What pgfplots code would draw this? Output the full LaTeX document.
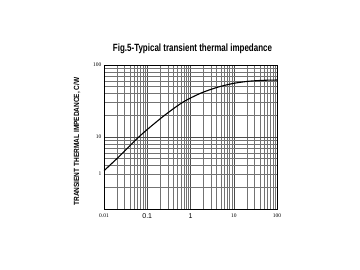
\documentclass[border=0pt]{standalone}
\usepackage{pgfplots}
\pgfplotsset{compat=1.18}
\usepackage{fontspec}
\setmainfont{Liberation Serif}
\newfontfamily\arialf{Liberation Sans}
\begin{document}
\begin{tikzpicture}[x=1pt,y=1pt]
\useasboundingbox (0,0) rectangle (360,270);
\fill[white] (0,0) rectangle (360,270);
\begin{axis}[at={(104pt,61pt)}, anchor=south west, scale only axis,
  width=173pt, height=144pt,
  xmode=log, ymode=log, xmin=0.01, xmax=100, ymin=1, ymax=100,
  xtick={0.01,0.1,1,10,100},
  xticklabels={{\fontsize{5.5}{6}\selectfont 0.01},{\arialf\fontsize{7}{8}\selectfont 0.1},{\arialf\fontsize{7}{8}\selectfont 1},{\fontsize{5.5}{6}\selectfont 10},{\fontsize{5.5}{6}\selectfont 100}},
  ytick={10,100}, yticklabels={10,100},
  extra y ticks={3.1}, extra y tick labels={1},
  extra y tick style={grid=none},
  minor xtick={0.02,0.03,0.04,0.05,0.06,0.07,0.08,0.09,0.2,0.3,0.4,0.5,0.6,0.7,0.8,0.9,2,3,4,5,6,7,8,9,20,30,40,50,60,70,80,90},
  minor ytick={2,3,4,5,6,7,8,9,20,30,40,50,60,70,80,90},
  grid=both,
  major grid style={black!70, line width=0.5pt},
  minor grid style={black!55, line width=0.4pt},
  tick style={draw=none},
  axis line style={black, line width=0.5pt},
  yticklabel style={font=\fontsize{5.5}{6}\selectfont, xshift=1pt},
  xticklabel style={yshift=-1pt},
]
\addplot[black, line width=1.1pt, smooth] coordinates {
(0.01,3.4) (0.0234,5.5) (0.057,9.4) (0.116,13.7) (0.282,21.1) (0.683,30.7)
(1.66,40.2) (4.04,48.7) (9.8,55.5) (23.8,59.7) (57.8,61.5) (100,61.8)
};
\end{axis}
\node[font=\arialf\bfseries\fontsize{10.5}{12}\selectfont] at (192.5,221) {\scalebox{0.76}[1]{Fig.5-Typical transient thermal impedance}};
\node[font=\arialf\bfseries\fontsize{7.5}{9}\selectfont, rotate=90] at (77,128.5) {\scalebox{0.87}[1]{TRANSIENT THERMAL IMPEDANCE, C/W}};
\end{tikzpicture}
\end{document}
